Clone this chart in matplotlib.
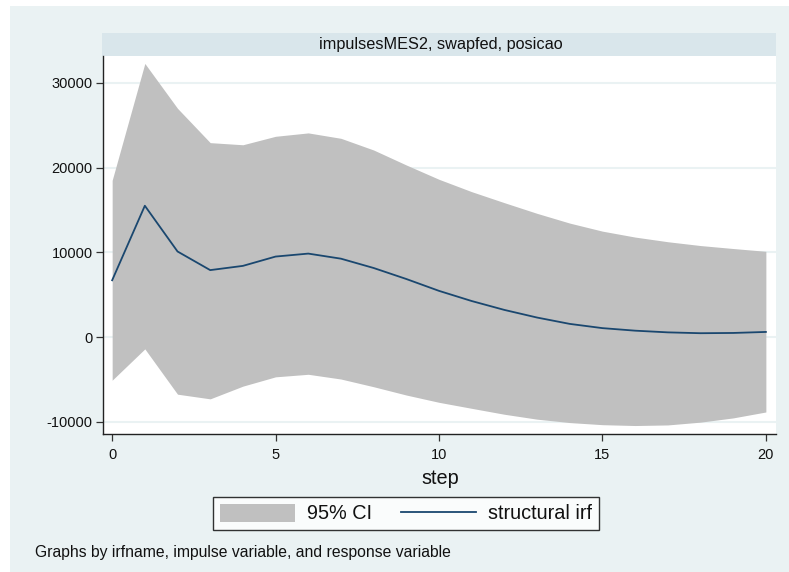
import matplotlib
matplotlib.use("Agg")
import matplotlib.pyplot as plt
from matplotlib.patches import Rectangle, Patch
from matplotlib.lines import Line2D

steps = list(range(21))
irf = [6700, 15500, 10100, 7900, 8400, 9500, 9850, 9250, 8150, 6850, 5450,
       4250, 3200, 2300, 1550, 1050, 750, 550, 450, 480, 600]
upper = [18500, 32300, 27000, 22950, 22700, 23700, 24100, 23460, 22080, 20310, 18620,
         17160, 15860, 14600, 13450, 12500, 11800, 11250, 10800, 10450, 10120]
lower = [-5100, -1400, -6750, -7300, -5800, -4700, -4400, -4960, -5870, -6850, -7710,
         -8420, -9120, -9700, -10100, -10350, -10450, -10380, -10050, -9550, -8850]
xticks = [0, 5, 10, 15, 20]
yticks = [-10000, 0, 10000, 20000, 30000]
strip_title = "impulsesMES2, swapfed, posicao"
note = "Graphs by irfname, impulse variable, and response variable"

plt.rcParams['font.family'] = ['Liberation Sans', 'DejaVu Sans']

W, H = 789, 572
fig = plt.figure(figsize=(W / 100, H / 100), dpi=100)
fig.patch.set_facecolor('white')

bg = '#EAF2F3'
fig.patches.append(Rectangle((10 / W, -0.01), 1.02 - 10 / W, 1.01 - 6 / H, transform=fig.transFigure,
                             facecolor=bg, edgecolor='none', zorder=-2))
# strip
fig.patches.append(Rectangle((102 / W, 1 - 56 / H), (776 - 102) / W, 23 / H,
                             transform=fig.transFigure, facecolor='#D9E6EB',
                             edgecolor='none', zorder=-1))
fig.text(441 / W, 1 - 44.5 / H, strip_title, ha='center', va='center', fontsize=11.7,
         color='#111111')

ax = fig.add_axes([103 / W, 1 - 434 / H, (776 - 103) / W, (434 - 56) / H])
ax.set_facecolor('white')
ax.fill_between(steps, lower, upper, color='#C0C0C0', linewidth=0, zorder=2)
ax.plot(steps, irf, color='#1A476F', linewidth=1.3, zorder=3)

ax.set_xlim(-0.28, 20.31)
ax.set_ylim(-11450, 33180)
ax.set_xticks(xticks)
ax.set_yticks(yticks)
ax.set_yticklabels([str(v) for v in yticks])
ax.grid(axis='y', color=bg, linewidth=1.5, zorder=1)
ax.set_axisbelow(True)
for s in ['top', 'right']:
    ax.spines[s].set_visible(False)
for s in ['left', 'bottom']:
    ax.spines[s].set_color('#222222')
    ax.spines[s].set_linewidth(1.0)
ax.tick_params(axis='both', direction='out', length=5, width=0.9, color='#333333',
               labelsize=10.5, labelcolor='#111111')
ax.tick_params(axis='x', pad=5)
ax.tick_params(axis='y', pad=2.5)

fig.text(440 / W, 1 - 478 / H, "step", ha='center', va='center', fontsize=14.3,
         color='#111111')

handles = [Patch(facecolor='#C0C0C0', edgecolor='none'),
           Line2D([0], [0], color='#1A476F', linewidth=1.3)]
leg = fig.legend(handles, ["95% CI", "structural irf"], loc='center',
                 bbox_to_anchor=(406 / W, 1 - 513.5 / H), ncol=2, fontsize=14.3,
                 frameon=True, fancybox=False, edgecolor='black', facecolor='white',
                 handlelength=3.8, handleheight=1.05, handletextpad=0.6,
                 columnspacing=1.45, borderpad=0.35, borderaxespad=0)
leg.get_frame().set_linewidth(1.0)
for t in leg.get_texts():
    t.set_color('#111111')

fig.text(35 / W, 1 - 552 / H, note, ha='left', va='center', fontsize=11.3, color='#111111')

fig.savefig('out.png', dpi=100, facecolor=fig.get_facecolor())
